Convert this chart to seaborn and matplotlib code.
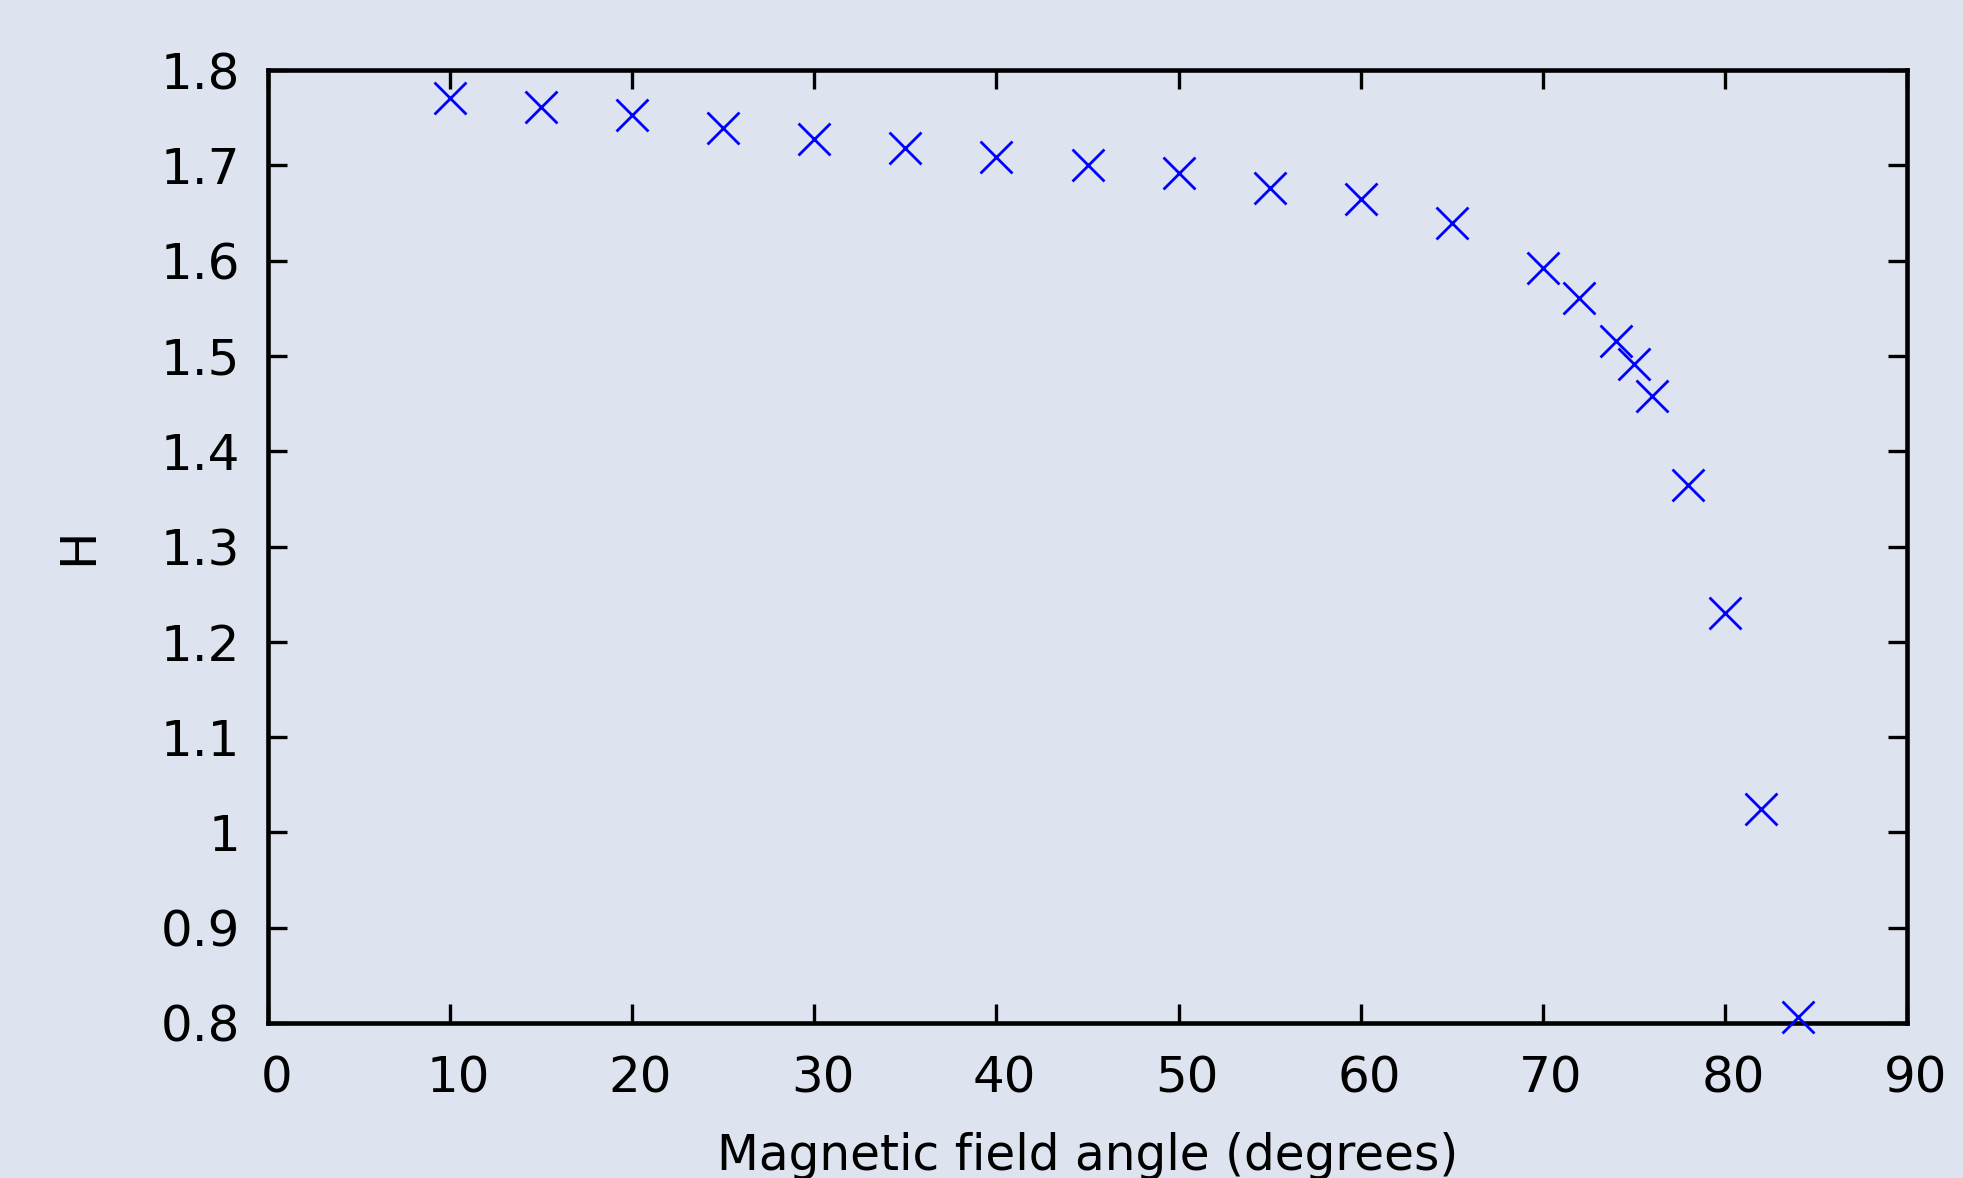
import matplotlib
matplotlib.use("Agg")
import matplotlib.pyplot as plt
import matplotlib.transforms as mtransforms
import seaborn as sns
import pandas as pd

angles = [10, 15, 20, 25, 30, 35, 40, 45, 50, 55, 60, 65, 70, 72, 74, 75, 76, 78, 80, 82, 84]
h_values = [1.771, 1.761, 1.753, 1.739, 1.728, 1.718, 1.709, 1.700, 1.692, 1.676, 1.665, 1.639,
            1.592, 1.561, 1.516, 1.491, 1.458, 1.365, 1.230, 1.025, 0.806]
x_ticks = [0, 10, 20, 30, 40, 50, 60, 70, 80, 90]
y_ticks = [0.8, 0.9, 1.0, 1.1, 1.2, 1.3, 1.4, 1.5, 1.6, 1.7, 1.8]
y_tick_labels = ["0.8", "0.9", "1", "1.1", "1.2", "1.3", "1.4", "1.5", "1.6", "1.7", "1.8"]

df = pd.DataFrame({"angle": angles, "H": h_values})

sns.set_style("ticks")
plt.rcParams['font.family'] = ['DejaVu Sans']
plt.rcParams['text.color'] = 'black'
plt.rcParams['axes.labelcolor'] = 'black'
bg = '#dde3ef'

fig = plt.figure(figsize=(19.63, 11.78), dpi=100, facecolor=bg)
ax = fig.add_axes([268/1963, 1 - 1023/1178, (1907-268)/1963, (1023-70)/1178])
ax.set_facecolor(bg)

sns.scatterplot(data=df, x="angle", y="H", marker="x", s=23**2, color="blue",
                linewidth=2.0, ax=ax, clip_on=False, zorder=5, legend=False)

ax.set_xlim(0, 90)
ax.set_ylim(0.8, 1.8)
ax.set_xticks(x_ticks)
ax.set_xticklabels([str(t) for t in x_ticks])
ax.set_yticks(y_ticks)
ax.set_yticklabels(y_tick_labels)

for s in ax.spines.values():
    s.set_linewidth(3.3)
    s.set_color('black')
    s.set_visible(True)

ax.tick_params(axis='x', which='major', pad=23)
ax.tick_params(axis='y', which='major', pad=20)
ax.tick_params(axis='both', which='major', direction='in', length=14, width=2.4,
               top=True, right=True, labelsize=36, colors='black')

offset = mtransforms.ScaledTranslation(6/72, 0, fig.dpi_scale_trans)
for lbl in ax.get_xticklabels():
    lbl.set_transform(lbl.get_transform() + offset)

ax.set_xlabel("Magnetic field angle (degrees)", fontsize=35, labelpad=21, color='black')
ax.set_ylabel("H", fontsize=36, labelpad=42, color='black')

fig.savefig("out.png", dpi=100, facecolor=bg)
